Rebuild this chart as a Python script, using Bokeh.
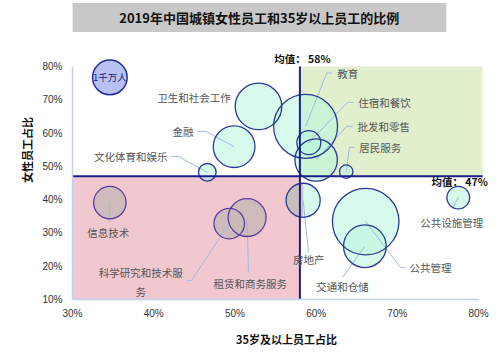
import math
from bokeh.plotting import figure
from bokeh.models import (ColumnDataSource, Range1d, FixedTicker, PrintfTickFormatter,
                          BoxAnnotation, Label)
from bokeh.embed import file_html
from bokeh.resources import INLINE

# ---------------- data ----------------
industries = ["信息技术", "科学研究和技术服务", "租赁和商务服务", "房地产", "公共管理",
              "交通和仓储", "公共设施管理", "居民服务", "批发和零售", "住宿和餐饮",
              "教育", "卫生和社会工作", "金融", "文化体育和娱乐"]
share_35plus = [34.6, 49.3, 51.5, 58.4, 66.1, 66.0, 77.5, 63.7, 60.0, 59.1, 58.7, 52.9, 49.9, 46.6]
share_female = [39.1, 32.8, 34.6, 39.8, 33.4, 26.0, 40.6, 48.4, 51.9, 57.1, 62.0, 68.0, 55.9, 48.2]
employment_mn = [8.8, 7.8, 12.0, 9.7, 37.0, 15.2, 4.3, 1.5, 15.0, 4.8, 34.2, 18.1, 14.5, 2.6]

mean_35plus = 58
mean_female = 47
legend_text = "1千万人"
legend_employment = 10
legend_35plus = 34.6
legend_female = 76.7

x_ticks = [30, 40, 50, 60, 70, 80]
y_ticks = [10, 20, 30, 40, 50, 60, 70, 80]

title_text = "2019年中国城镇女性员工和35岁以上员工的比例"
x_title = "35岁及以上员工占比"
y_title = "女性员工占比"

# label placement (annotation layout)
label_layout = {
    "卫生和社会工作": ((49.5, 70.7), "right", []),
    "金融": ((44.9, 60.5), "right", [(46.4, 60.5), (45.4, 60.5)]),
    "文化体育和娱乐": ((41.7, 52.95), "right", [(43.05, 52.95), (42.07, 52.95)]),
    "教育": ((62.6, 78.0), "left", [(61.3, 78.0), (62.0, 78.0)]),
    "住宿和餐饮": ((65.2, 69.2), "left", [(63.87, 69.2), (64.6, 69.2)]),
    "批发和零售": ((65.1, 62.0), "left", [(63.74, 62.0), (64.5, 62.0)]),
    "居民服务": ((65.3, 55.7), "left", [(64.1, 55.7), (64.7, 55.7)]),
    "信息技术": ((34.4, 30.1), "center", [(34.5, 33.1)]),
    "科学研究和技术服务": ((38.4, 15.26), "center", [(44.66, 15.7), (44.16, 15.7)]),
    "租赁和商务服务": ((51.9, 14.8), "center", [(51.67, 18.1)]),
    "房地产": ((59.1, 22.0), "center", [(59.06, 24.1)]),
    "交通和仓储": ((63.25, 13.9), "center", [(63.25, 16.6)]),
    "公共管理": ((71.5, 19.6), "left", [(70.4, 19.6), (71.0, 19.6)]),
    "公共设施管理": ((76.7, 33.1), "center", [(76.8, 37.3)]),
}
label_text_override = {"科学研究和技术服务": "科学研究和技术服\n务"}

# ---------------- figure ----------------
CJK = "Noto Sans CJK SC"
p = figure(width=500, height=357, output_backend="svg", toolbar_location=None, title=None,
           x_range=Range1d(30, 82.7), y_range=Range1d(10, 99.8),
           min_border_left=72, min_border_right=0, min_border_top=0, min_border_bottom=58)
p.outline_line_color = None
p.xgrid.visible = False
p.ygrid.visible = False

for ax, ticks in ((p.xaxis, x_ticks), (p.yaxis, y_ticks)):
    ax.ticker = FixedTicker(ticks=ticks)
    ax.bounds = (ticks[0], ticks[-1])
    ax.formatter = PrintfTickFormatter(format="%d%%")
    ax.axis_line_color = "#bcd2f0"
    ax.axis_line_width = 1.5
    ax.major_tick_line_color = None
    ax.minor_tick_line_color = None
    ax.major_tick_out = 0
    ax.major_tick_in = 0
    ax.major_label_text_font = "Liberation Sans"
    ax.major_label_text_font_size = "10px"
    ax.major_label_text_color = "#333333"
    ax.axis_label_text_font = CJK
    ax.axis_label_text_font_size = "11px"
    ax.axis_label_text_font_style = "bold"
    ax.axis_label_text_color = "#111111"
p.xaxis.major_label_standoff = 8
p.yaxis.major_label_standoff = 10
p.xaxis.axis_label = x_title
p.yaxis.axis_label = y_title
p.xaxis.axis_label_standoff = 9
p.yaxis.axis_label_standoff = 4

# quadrant shading
p.add_layout(BoxAnnotation(left=mean_35plus, right=80.5, bottom=mean_female, top=80,
                           fill_color="#e2efcd", fill_alpha=1, line_color=None, level="underlay"))
p.add_layout(BoxAnnotation(left=30, right=mean_35plus, bottom=10, top=mean_female,
                           fill_color="#f2c8d0", fill_alpha=1, line_color=None, level="underlay"))

# bubbles
sizes = [34.6 * math.sqrt(e / legend_employment) for e in employment_mn]
in_pink = [x < mean_35plus and y < mean_female for x, y in zip(share_35plus, share_female)]
fills = ["#c9b8b9" if f else "#b8f5dd" for f in in_pink]
falpha = [0.85 if f else 0.55 for f in in_pink]
lines = ["#5c3f9f" if f else "#283a96" for f in in_pink]
src = ColumnDataSource(dict(x=share_35plus, y=share_female, s=sizes, fill=fills,
                            fa=falpha, lc=lines, name=industries))
p.scatter("x", "y", size="s", source=src, fill_color="fill", fill_alpha="fa", line_color=None)

# bubbles straddling the pink quadrant edge: tint their left half
px_per_pct = 8.12
wx, wy, wr = [], [], []
for x, y, s, f in zip(share_35plus, share_female, sizes, in_pink):
    r_pct = s / 2 / px_per_pct
    if not f and y < mean_female and x - r_pct < mean_35plus < x:
        wx.append(x); wy.append(y); wr.append(s / 2)
if wx:
    p.wedge(x=wx, y=wy, radius=wr, radius_units="screen", start_angle=math.pi / 2,
            end_angle=3 * math.pi / 2, fill_color="#c9b8b9", fill_alpha=0.85, line_color=None)

# leader lines
xs, ys = [], []
for name, x, y in zip(industries, share_35plus, share_female):
    pts = label_layout[name][2]
    if pts:
        xs.append([x] + [pt[0] for pt in pts])
        ys.append([y] + [pt[1] for pt in pts])
p.multi_line(xs, ys, line_color="#9dbbe0", line_width=1)

p.scatter("x", "y", size="s", source=src, fill_color=None, line_color="lc", line_width=1.3)

# legend bubble
p.scatter([legend_35plus], [legend_female], size=34.6, fill_color="#b8c0f4",
          line_color="#1f2d9e", line_width=1.5)
p.add_layout(Label(x=legend_35plus, y=legend_female, text=legend_text, text_align="center",
                   text_baseline="middle", text_font=CJK, text_font_size="9.5px",
                   text_color="#1c2370"))

# industry labels
for name in industries:
    (lx, ly), align, _ = label_layout[name]
    p.add_layout(Label(x=lx, y=ly, text=label_text_override.get(name, name), text_align=align,
                       text_baseline="middle", text_font=CJK, text_font_size="10.5px",
                       text_color="#555555", text_line_height=1.25))

# mean lines
p.segment(x0=[mean_35plus], y0=[10], x1=[mean_35plus], y1=[80],
          line_color="#1b1f8a", line_width=2)
p.segment(x0=[30], y0=[mean_female], x1=[80.5], y1=[mean_female],
          line_color="#1b1f8a", line_width=2)
p.add_layout(Label(x=58.3, y=82.4, text="均值： %d%%" % mean_35plus, text_align="center",
                   text_baseline="middle", text_font=CJK, text_font_size="10.5px",
                   text_font_style="bold", text_color="#111111"))
p.add_layout(Label(x=77.66, y=45.45, text="均值： %d%%" % mean_female, text_align="center",
                   text_baseline="middle", text_font=CJK, text_font_size="10.5px",
                   text_font_style="bold", text_color="#111111"))

# title box
p.add_layout(Label(x=53.0, y=94.7, text=title_text, text_align="center", text_baseline="middle",
                   text_font=CJK, text_font_size="13px", text_font_style="bold",
                   text_color="#111111", background_fill_color="#c8c8c8",
                   padding=(47, 5)))

open("out.html", "w").write(file_html(p, INLINE))
